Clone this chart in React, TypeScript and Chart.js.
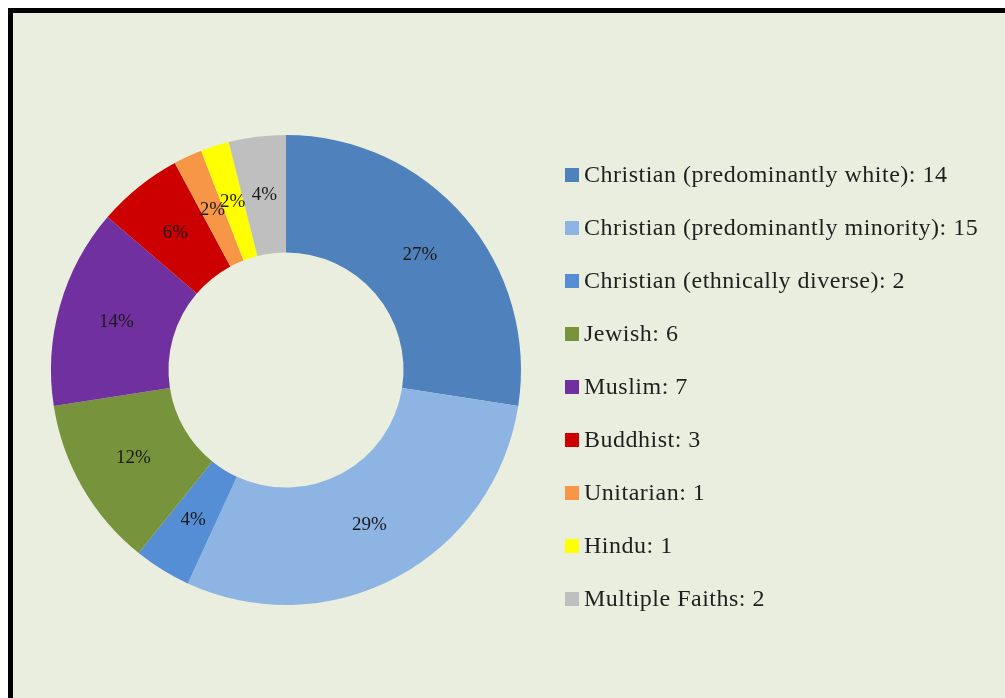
import React, { useEffect, useRef } from "react";
import { Chart, registerables } from "chart.js";

Chart.register(...registerables);

const categories = [
  "Christian (predominantly white)",
  "Christian (predominantly minority)",
  "Christian (ethnically diverse)",
  "Jewish",
  "Muslim",
  "Buddhist",
  "Unitarian",
  "Hindu",
  "Multiple Faiths",
];
const counts = [14, 15, 2, 6, 7, 3, 1, 1, 2];
const colors = [
  "#4F81BD",
  "#8EB4E3",
  "#558ED5",
  "#77933C",
  "#7030A0",
  "#CC0000",
  "#F79646",
  "#FFFF00",
  "#BFBFBF",
];

const FONT = '"Liberation Serif", "Times New Roman", serif';

const labelPlugin = {
  id: "pctLabels",
  afterDatasetsDraw(chart: any) {
    const ctx = chart.ctx;
    const meta = chart.getDatasetMeta(0);
    const total = counts.reduce((a, b) => a + b, 0);
    ctx.save();
    ctx.font = `19px ${FONT}`;
    ctx.fillStyle = "#1a1a1a";
    ctx.textAlign = "center";
    ctx.textBaseline = "middle";
    meta.data.forEach((arc: any, i: number) => {
      const p = arc.getCenterPoint();
      const pct = Math.round((counts[i] / total) * 100);
      ctx.fillText(`${pct}%`, p.x, p.y);
    });
    ctx.restore();
  },
};

const legendPlugin = {
  id: "sideLegend",
  afterDraw(chart: any) {
    const ctx = chart.ctx;
    const area = chart.chartArea;
    const x0 = area.right + 44;
    const rowH = 53;
    const y0 = area.top + 40;
    ctx.save();
    ctx.font = `24px ${FONT}`;
    (ctx as any).letterSpacing = "0.5px";
    ctx.textBaseline = "middle";
    ctx.textAlign = "left";
    categories.forEach((c, i) => {
      const y = y0 + i * rowH;
      ctx.fillStyle = colors[i];
      ctx.fillRect(x0, y - 7, 14, 14);
      ctx.fillStyle = "#1f1f1f";
      ctx.fillText(`${c}: ${counts[i]}`, x0 + 19, y + 1);
    });
    ctx.restore();
  },
};

export default function App() {
  const ref = useRef<HTMLCanvasElement | null>(null);
  useEffect(() => {
    if (!ref.current) return;
    const chart = new Chart(ref.current, {
      type: "doughnut",
      data: {
        labels: categories,
        datasets: [
          {
            data: counts,
            backgroundColor: colors,
            borderWidth: 0,
            hoverOffset: 0,
            offset: 0,
          },
        ],
      },
      options: {
        responsive: false,
        animation: false,
        cutout: "50%",
        layout: { padding: { left: 38, top: 122, right: 484, bottom: 93 } },
        plugins: {
          legend: { display: false },
          tooltip: { enabled: false },
        },
      },
      plugins: [labelPlugin, legendPlugin],
    });
    return () => chart.destroy();
  }, []);

  return (
    <div
      style={{
        position: "fixed",
        left: 8,
        top: 8,
        right: 0,
        bottom: 0,
        overflow: "hidden",
      }}
    >
      <div
        style={{
          width: 1020,
          height: 720,
          border: "5px solid #000",
          background: "#EAEEDE",
          boxSizing: "content-box",
        }}
      >
        <canvas ref={ref} width={992} height={685} style={{ display: "block" }} />
      </div>
    </div>
  );
}
